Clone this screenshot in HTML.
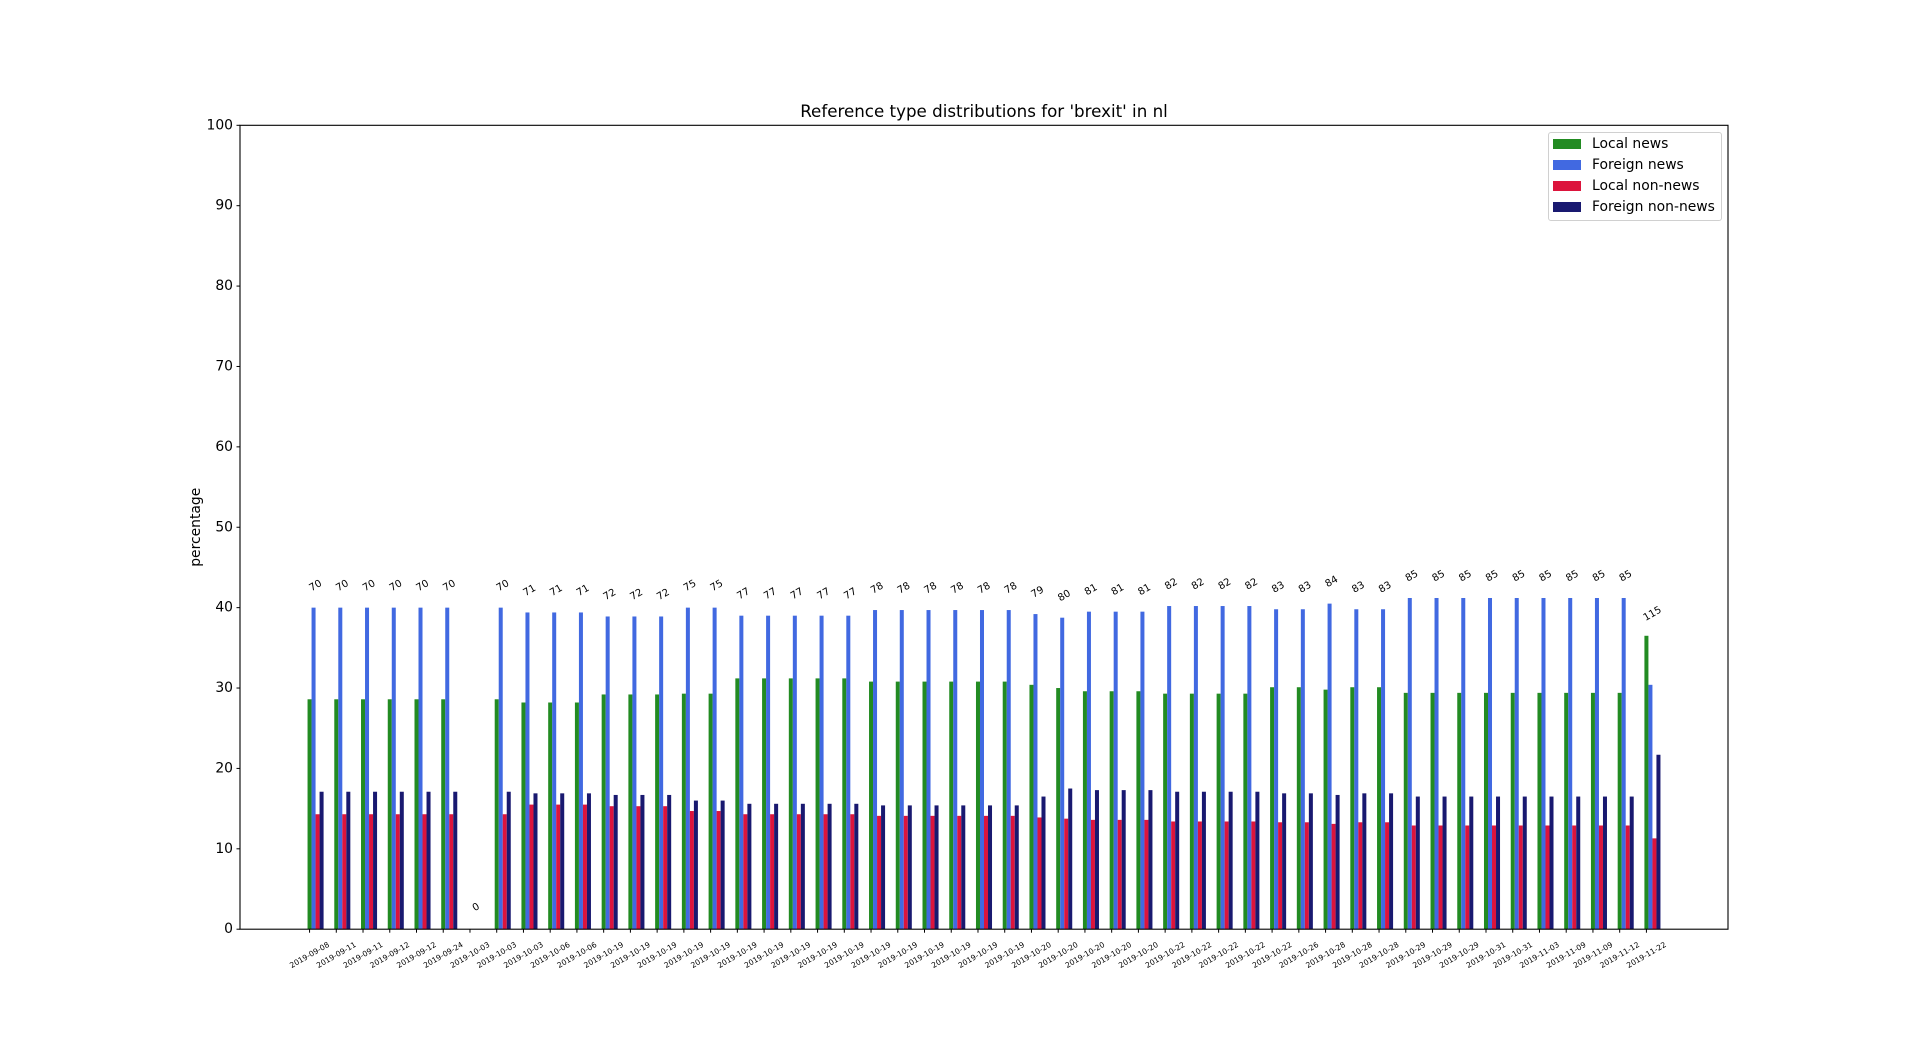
<!DOCTYPE html>
<html><head><meta charset="utf-8"><title>Reference type distributions</title>
<style>
html,body{margin:0;padding:0;background:#fff;}
svg{display:block;font-family:"DejaVu Sans","Liberation Sans",sans-serif;}
</style></head>
<body>
<svg id="chart" width="1920" height="1044" viewBox="0 0 1920 1044" xmlns="http://www.w3.org/2000/svg">
<rect x="0" y="0" width="1920" height="1044" fill="#fff"/>
<g id="plot"></g>
</svg>
<script>
const categories = ["2019-09-08","2019-09-11","2019-09-11","2019-09-12","2019-09-12","2019-09-24","2019-10-03","2019-10-03","2019-10-03","2019-10-06","2019-10-06","2019-10-19","2019-10-19","2019-10-19","2019-10-19","2019-10-19","2019-10-19","2019-10-19","2019-10-19","2019-10-19","2019-10-19","2019-10-19","2019-10-19","2019-10-19","2019-10-19","2019-10-19","2019-10-19","2019-10-20","2019-10-20","2019-10-20","2019-10-20","2019-10-20","2019-10-22","2019-10-22","2019-10-22","2019-10-22","2019-10-22","2019-10-26","2019-10-28","2019-10-28","2019-10-28","2019-10-29","2019-10-29","2019-10-29","2019-10-31","2019-10-31","2019-11-03","2019-11-09","2019-11-09","2019-11-12","2019-11-22"];
const totals = [70,70,70,70,70,70,0,70,71,71,71,72,72,72,75,75,77,77,77,77,77,78,78,78,78,78,78,79,80,81,81,81,82,82,82,82,83,83,84,83,83,85,85,85,85,85,85,85,85,85,115];
const localNews = [28.6,28.6,28.6,28.6,28.6,28.6,0,28.6,28.2,28.2,28.2,29.2,29.2,29.2,29.3,29.3,31.2,31.2,31.2,31.2,31.2,30.8,30.8,30.8,30.8,30.8,30.8,30.4,30.0,29.6,29.6,29.6,29.3,29.3,29.3,29.3,30.1,30.1,29.8,30.1,30.1,29.4,29.4,29.4,29.4,29.4,29.4,29.4,29.4,29.4,36.5];
const foreignNews = [40.0,40.0,40.0,40.0,40.0,40.0,0,40.0,39.4,39.4,39.4,38.9,38.9,38.9,40.0,40.0,39.0,39.0,39.0,39.0,39.0,39.7,39.7,39.7,39.7,39.7,39.7,39.2,38.75,39.5,39.5,39.5,40.2,40.2,40.2,40.2,39.8,39.8,40.5,39.8,39.8,41.2,41.2,41.2,41.2,41.2,41.2,41.2,41.2,41.2,30.4];
const localNonNews = [14.3,14.3,14.3,14.3,14.3,14.3,0,14.3,15.5,15.5,15.5,15.3,15.3,15.3,14.7,14.7,14.3,14.3,14.3,14.3,14.3,14.1,14.1,14.1,14.1,14.1,14.1,13.9,13.75,13.6,13.6,13.6,13.4,13.4,13.4,13.4,13.3,13.3,13.1,13.3,13.3,12.9,12.9,12.9,12.9,12.9,12.9,12.9,12.9,12.9,11.3];
const foreignNonNews = [17.1,17.1,17.1,17.1,17.1,17.1,0,17.1,16.9,16.9,16.9,16.7,16.7,16.7,16.0,16.0,15.6,15.6,15.6,15.6,15.6,15.4,15.4,15.4,15.4,15.4,15.4,16.5,17.5,17.3,17.3,17.3,17.1,17.1,17.1,17.1,16.9,16.9,16.7,16.9,16.9,16.5,16.5,16.5,16.5,16.5,16.5,16.5,16.5,16.5,21.7];
const seriesNames = ["Local news","Foreign news","Local non-news","Foreign non-news"];
const yTicks = [0,10,20,30,40,50,60,70,80,90,100];

const NS = "http://www.w3.org/2000/svg";
const plot = document.getElementById("plot");
const AX = {left:240, right:1728, top:125.3, bottom:929.2};
const colors = ["#228b22","#4169e1","#dc143c","#191970"];
const series = [localNews, foreignNews, localNonNews, foreignNonNews];
const barW = 0.15;
const n = categories.length;
const span = (n - 1) + 3.5 * barW;
const xMin = -barW / 2 - 0.05 * span;
const xMax = (n - 1) + 3.5 * barW + 0.05 * span;
function xs(v){ return AX.left + (v - xMin) / (xMax - xMin) * (AX.right - AX.left); }
function ys(v){ return AX.bottom - v / 100 * (AX.bottom - AX.top); }
function mk(tag, attrs, parent){
  const e = document.createElementNS(NS, tag);
  for (const k in attrs) e.setAttribute(k, attrs[k]);
  (parent || plot).appendChild(e);
  return e;
}

// bars
series.forEach((vals, s) => {
  const g = mk("g", {});
  
  
  vals.forEach((v, i) => {
    const cx = i + s * barW;
    const x0 = xs(cx - barW / 2), x1 = xs(cx + barW / 2);
    const y0 = ys(v);
    const r = mk("rect", {x: x0, y: y0, width: x1 - x0, height: AX.bottom - y0, fill: colors[s]}, g);
    
    
  });
});

// total annotations
totals.forEach((t, i) => {
  const m = Math.max(localNews[i], foreignNews[i], localNonNews[i], foreignNonNews[i]);
  const cx = xs(i + 1.5 * barW);
  const cy = ys(m) - 22;
  const tx = mk("text", {x: cx, y: cy, "font-size": "10", "text-anchor": "middle", "dominant-baseline": "middle", fill: "#000", transform: "rotate(-30 " + cx + " " + cy + ")"});
  tx.textContent = t;
  
  
});

// axes frame
const frame = mk("rect", {x: AX.left, y: AX.top, width: AX.right - AX.left, height: AX.bottom - AX.top, fill: "none", stroke: "#000", "stroke-width": "1.1"});



// y ticks
yTicks.forEach(v => {
  const y = ys(v);
  mk("line", {x1: AX.left - 3.5, x2: AX.left, y1: y, y2: y, stroke: "#000", "stroke-width": "1"});
  const t = mk("text", {x: AX.left - 7, y: y, "font-size": "13.9", "text-anchor": "end", "dominant-baseline": "central", fill: "#000"});
  t.textContent = v;
  
  
});

// x ticks
categories.forEach((c, i) => {
  const x = xs(i);
  mk("line", {x1: x, x2: x, y1: AX.bottom, y2: AX.bottom + 3.5, stroke: "#000", "stroke-width": "1"});
  const cy = 955;
  const t = mk("text", {x: x, y: cy, "font-size": "7.6", "text-anchor": "middle", "dominant-baseline": "central", fill: "#000", transform: "rotate(-30 " + x + " " + cy + ")"});
  t.textContent = c;
  
  
});

// title
const title = mk("text", {x: (AX.left + AX.right) / 2, y: 117, "font-size": "16.7", "text-anchor": "middle", fill: "#000"});
title.textContent = "Reference type distributions for 'brexit' in nl";



// y label
const yl = mk("text", {x: 196, y: (AX.top + AX.bottom) / 2, "font-size": "13.9", "text-anchor": "middle", "dominant-baseline": "central", fill: "#000", transform: "rotate(-90 196 " + ((AX.top + AX.bottom) / 2) + ")"});
yl.textContent = "percentage";



// legend
const lg = mk("g", {});


mk("rect", {x: 1548.5, y: 132.5, width: 173, height: 88, rx: 2.5, fill: "#fff", "fill-opacity": "0.8", stroke: "#d0d0d0", "stroke-width": "1"}, lg);
seriesNames.forEach((nm, s) => {
  const cy = 144 + s * 21;
  const entry = mk("g", {}, lg);
  
  
  mk("rect", {x: 1553, y: cy - 5, width: 28, height: 10, fill: colors[s]}, entry);
  const t = mk("text", {x: 1592, y: cy, "font-size": "13.9", "dominant-baseline": "central", fill: "#000"}, entry);
  t.textContent = nm;
});
</script>
</body></html>
